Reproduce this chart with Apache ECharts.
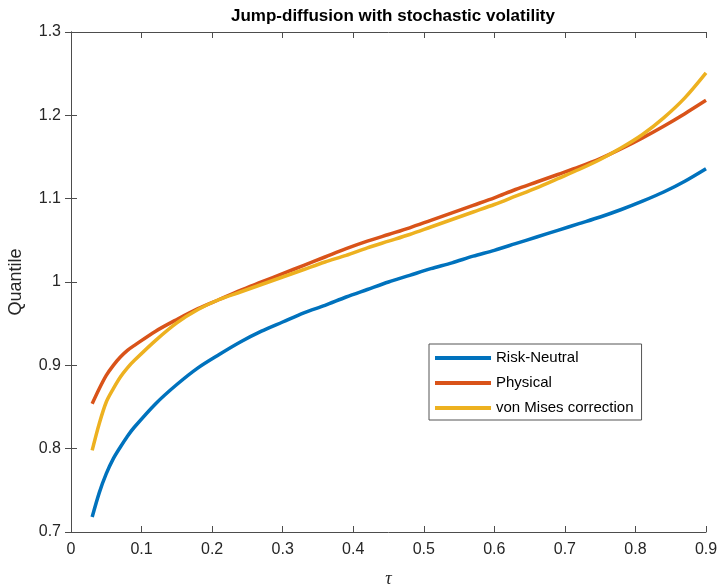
<!DOCTYPE html>
<html>
<head>
<meta charset="utf-8">
<script src="https://cdn.jsdelivr.net/npm/echarts@6/dist/echarts.min.js"></script>
<style>
  html, body { margin: 0; padding: 0; background: #fff; }
  #chart { width: 722px; height: 586px; }
</style>
</head>
<body>
<div id="chart"></div>
<script>
// Quantile level tau (finer steps where the curves bend most)
const tau = [0.03, 0.04, 0.05, 0.06, 0.07, 0.08, 0.09, 0.12, 0.15, 0.18, 0.21, 0.24, 0.27, 0.30,
             0.33, 0.36, 0.39, 0.42, 0.45, 0.48, 0.51, 0.54, 0.57, 0.60,
             0.63, 0.66, 0.69, 0.72, 0.75, 0.78, 0.81, 0.84, 0.87, 0.90];

// Quantile curves
const riskNeutral = [0.718, 0.747, 0.770, 0.788, 0.802, 0.815, 0.826, 0.854, 0.877, 0.897, 0.913, 0.928, 0.941, 0.952,
                     0.963, 0.972, 0.982, 0.991, 1.000, 1.008, 1.016, 1.023, 1.031, 1.038,
                     1.046, 1.054, 1.062, 1.070, 1.078, 1.087, 1.097, 1.108, 1.121, 1.136];
const physical    = [0.854, 0.872, 0.888, 0.900, 0.910, 0.918, 0.924, 0.941, 0.955, 0.968, 0.979, 0.990, 1.000, 1.010,
                     1.020, 1.030, 1.040, 1.049, 1.057, 1.065, 1.074, 1.083, 1.092, 1.101,
                     1.111, 1.120, 1.129, 1.138, 1.148, 1.160, 1.173, 1.187, 1.202, 1.218];
const vonMises    = [0.798, 0.830, 0.856, 0.872, 0.886, 0.897, 0.906, 0.930, 0.951, 0.967, 0.979, 0.988, 0.997, 1.006,
                     1.015, 1.024, 1.032, 1.041, 1.049, 1.057, 1.066, 1.075, 1.084, 1.093,
                     1.103, 1.113, 1.124, 1.135, 1.147, 1.161, 1.177, 1.197, 1.221, 1.251];

const seriesNames = ['Risk-Neutral', 'Physical', 'von Mises correction'];
const seriesColors = ['#0072BD', '#D95319', '#EDB120'];

const FONT = '"Liberation Sans", Arial, Helvetica, sans-serif';
const AXIS_COLOR = '#4d4d4d';
const TEXT_COLOR = '#262626';

function pairs(ys) { return tau.map((t, i) => [t, ys[i]]); }

const chart = echarts.init(document.getElementById('chart'), null, { renderer: 'canvas' });

const axisCommon = {
  axisLine: { show: true, lineStyle: { color: AXIS_COLOR, width: 1 } },
  axisTick: { show: true, inside: true, length: 6, lineStyle: { color: AXIS_COLOR, width: 1 } },
  splitLine: { show: false }
};

chart.setOption({
  animation: false,
  backgroundColor: '#ffffff',
  title: {
    text: 'Jump-diffusion with stochastic volatility',
    left: 388, top: 3, textAlign: 'center',
    textStyle: { fontFamily: FONT, fontSize: 17, fontWeight: 'bold', color: '#000' }
  },
  grid: { left: 71, right: 16, top: 32, bottom: 54, outerBoundsMode: 'none', containLabel: false },
  legend: {
    data: seriesNames,
    orient: 'vertical',
    left: 429, top: 344,
    backgroundColor: '#fff',
    borderColor: '#555',
    borderWidth: 1,
    padding: [5, 8, 3, 6],
    itemWidth: 56, itemHeight: 4, itemGap: 7,
    icon: 'rect',
    textStyle: { fontFamily: FONT, fontSize: 15, color: '#000', lineHeight: 18 }
  },
  xAxis: [
    Object.assign({
      type: 'value', min: 0, max: 0.9, interval: 0.1,
      name: 'τ', nameLocation: 'middle', nameGap: 38,
      nameTextStyle: { fontFamily: '"Liberation Serif", "DejaVu Serif", serif', fontStyle: 'italic', fontSize: 18, color: TEXT_COLOR },
      axisLabel: {
        fontFamily: FONT, fontSize: 16, color: TEXT_COLOR, margin: 10,
        formatter: v => String(+v.toFixed(1))
      }
    }, axisCommon),
    Object.assign({
      type: 'value', min: 0, max: 0.9, interval: 0.1, position: 'top',
      axisLabel: { show: false }
    }, axisCommon)
  ],
  yAxis: [
    Object.assign({
      type: 'value', min: 0.7, max: 1.3, interval: 0.1,
      name: 'Quantile', nameLocation: 'middle', nameGap: 46,
      nameTextStyle: { fontFamily: FONT, fontSize: 18, color: TEXT_COLOR },
      axisLabel: {
        fontFamily: FONT, fontSize: 16, color: TEXT_COLOR, margin: 10,
        formatter: v => String(+v.toFixed(1))
      }
    }, axisCommon),
    Object.assign({
      type: 'value', min: 0.7, max: 1.3, interval: 0.1, position: 'right',
      axisLabel: { show: false }
    }, axisCommon)
  ],
  series: [riskNeutral, physical, vonMises].map((ys, i) => ({
    name: seriesNames[i],
    type: 'line',
    data: pairs(ys),
    smooth: 0.3,
    showSymbol: false,
    symbol: 'none',
    color: seriesColors[i],
    lineStyle: { color: seriesColors[i], width: 3.5 },
    xAxisIndex: 0, yAxisIndex: 0
  }))
});
</script>
</body>
</html>
